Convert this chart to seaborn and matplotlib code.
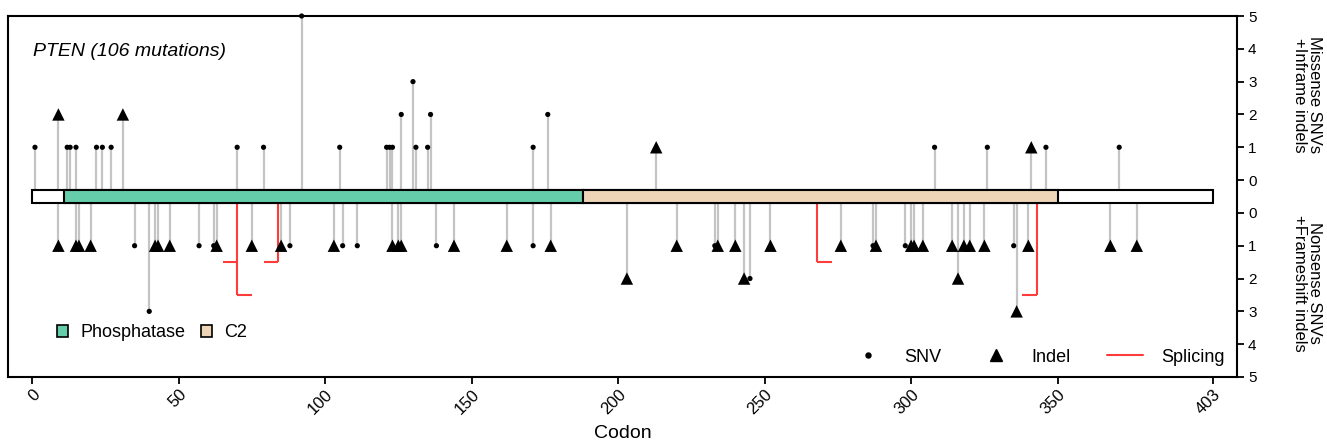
import numpy as np
import pandas as pd
import matplotlib
matplotlib.use("Agg")
import matplotlib.pyplot as plt
from matplotlib.patches import Rectangle, Patch
from matplotlib.lines import Line2D
import seaborn as sns

# ---------------- data ----------------
gene_name = "PTEN"
protein_length = 403
n_mutations = 106

domain_names = ["Phosphatase", "C2"]
domain_starts = [11, 188]
domain_ends = [188, 350]
domain_colors = ["#66CDAA", "#EED5B7"]

# upper track: missense SNVs + inframe indels
up_snv_codons = [1, 12, 13, 15, 22, 24, 27, 70, 79, 92, 105, 121, 122, 123, 126, 130,
                 131, 135, 136, 171, 176, 308, 326, 346, 371]
up_snv_counts = [1, 1, 1, 1, 1, 1, 1, 1, 1, 5, 1, 1, 1, 1, 2, 3,
                 1, 1, 2, 1, 2, 1, 1, 1, 1]
up_indel_codons = [9, 31, 213, 341]
up_indel_counts = [2, 2, 1, 1]

# lower track: nonsense SNVs + frameshift indels
low_snv_codons = [35, 40, 57, 62, 88, 106, 111, 138, 171, 233, 245, 287, 298, 335]
low_snv_counts = [1, 3, 1, 1, 1, 1, 1, 1, 1, 1, 2, 1, 1, 1]
low_indel_codons = [9, 15, 16, 20, 42, 43, 47, 63, 75, 85, 103, 123, 125, 126, 144,
                    162, 177, 203, 220, 234, 240, 243, 252, 276, 288, 300, 301, 304,
                    314, 316, 318, 320, 325, 336, 340, 368, 377]
low_indel_counts = [1, 1, 1, 1, 1, 1, 1, 1, 1, 1, 1, 1, 1, 1, 1,
                    1, 1, 2, 1, 1, 1, 2, 1, 1, 1, 1, 1, 1,
                    1, 2, 1, 1, 1, 3, 1, 1, 1]

# splicing marks (codon, level on the lower scale, side of the tick)
splice_codons = [70, 70, 84, 268, 343]
splice_levels = [1.5, 2.5, 1.5, 1.5, 2.5]
splice_sides = [-1, 1, -1, 1, -1]

x_ticks = [0, 50, 100, 150, 200, 250, 300, 350, 403]
y_tick_counts = [0, 1, 2, 3, 4, 5]

# ---------------- style ----------------
sns.set_style("white")
plt.rcParams["font.family"] = ["Liberation Sans", "DejaVu Sans"]
plt.rcParams["text.color"] = "black"
plt.rcParams["axes.labelcolor"] = "black"
plt.rcParams["xtick.color"] = "black"
plt.rcParams["ytick.color"] = "black"

fig = plt.figure(figsize=(13.27, 4.46), dpi=100)
ax = fig.add_axes([8 / 1327, 69 / 446, 1229 / 1327, 361 / 446])

half_bar = 0.21
stem_color = "#c4c4c4"

rows = []
for c, n in zip(up_snv_codons, up_snv_counts):
    rows.append((c, n + 0.5, "SNV"))
for c, n in zip(up_indel_codons, up_indel_counts):
    rows.append((c, n + 0.5, "Indel"))
for c, n in zip(low_snv_codons, low_snv_counts):
    rows.append((c, -(n + 0.5), "SNV"))
for c, n in zip(low_indel_codons, low_indel_counts):
    rows.append((c, -(n + 0.5), "Indel"))
df = pd.DataFrame(rows, columns=["codon", "y", "type"])

# stems
ax.vlines(df["codon"], 0, df["y"], color=stem_color, lw=1.6, zorder=1)

# markers
sns.scatterplot(data=df, x="codon", y="y", style="type", size="type",
                markers={"SNV": "o", "Indel": "^"},
                sizes={"SNV": 14, "Indel": 80},
                color="black", linewidth=0, legend=False, ax=ax, zorder=4)
for coll in ax.collections[1:]:
    coll.set_clip_on(False)

# splicing
sp_color = "#FF3B3B"
for c in sorted(set(splice_codons)):
    lv = max(l for cc, l in zip(splice_codons, splice_levels) if cc == c)
    ax.plot([c, c], [0, -(lv + 0.5)], color=sp_color, lw=1.5, zorder=2,
            solid_capstyle="butt")
for c, l, s in zip(splice_codons, splice_levels, splice_sides):
    ax.plot([c, c + s * 5], [-(l + 0.5), -(l + 0.5)], color=sp_color, lw=1.5, zorder=2,
            solid_capstyle="butt")

# gene bar
ax.add_patch(Rectangle((0, -half_bar), protein_length, 2 * half_bar,
                       facecolor="white", edgecolor="black", lw=1.5, zorder=3))
for s, e, col in zip(domain_starts, domain_ends, domain_colors):
    ax.add_patch(Rectangle((s, -half_bar), e - s, 2 * half_bar,
                           facecolor=col, edgecolor="black", lw=1.5, zorder=3))

# axes
ax.set_xlim(-8.2, 411.2)
ax.set_ylim(-5.5, 5.5)
ax.set_xticks(x_ticks)
ax.set_xticklabels([str(t) for t in x_ticks], rotation=45, ha="right",
                   rotation_mode="anchor", fontsize=12)
ytpos = [c + 0.5 for c in y_tick_counts] + [-(c + 0.5) for c in y_tick_counts]
ytlab = [str(c) for c in y_tick_counts] * 2
ax.yaxis.tick_right()
ax.set_yticks(ytpos)
ax.set_yticklabels(ytlab, fontsize=11)
ax.tick_params(axis="both", direction="out", length=5, width=1.3, colors="black",
               bottom=True, right=True, left=False, pad=3)
ax.tick_params(axis="x", pad=2)
for sp in ax.spines.values():
    sp.set_visible(True)
    sp.set_color("black")
    sp.set_linewidth(1.5)
ax.set_xlabel("Codon", fontsize=14, labelpad=6)
ax.set_ylabel("")

# right-side titles
fig.text(1307 / 1327, 1 - 95 / 446, "Missense SNVs\n+Inframe indels", rotation=270,
         ha="center", va="center", fontsize=12, linespacing=1.0)
fig.text(1307 / 1327, 1 - 283 / 446, "Nonsense SNVs\n+Frameshift indels", rotation=270,
         ha="center", va="center", fontsize=12, linespacing=1.0)

ax.text(0.0203, 0.889, f"{gene_name} ({n_mutations} mutations)", transform=ax.transAxes,
        fontsize=14, style="italic", ha="left", va="baseline")

# legends
dom_handles = [Patch(facecolor=c, edgecolor="black", lw=1.2) for c in domain_colors]
leg1 = ax.legend(dom_handles, domain_names, loc="center left",
                 bbox_to_anchor=(0.040, 0.122), frameon=False, fontsize=13,
                 ncol=2, handlelength=0.62, handleheight=0.62, handletextpad=0.67,
                 columnspacing=0.85, borderpad=0, borderaxespad=0)
ax.add_artist(leg1)

mut_handles = [Line2D([], [], marker="o", ls="none", color="black", markersize=3.6),
               Line2D([], [], marker="^", ls="none", color="black", markersize=9),
               Line2D([], [], color=sp_color, lw=1.5)]
ax.legend(mut_handles, ["SNV", "Indel", "Splicing"], loc="center right",
          bbox_to_anchor=(0.990, 0.055), frameon=False, fontsize=13, ncol=3,
          handlelength=2.0, handletextpad=1.0, columnspacing=2.0,
          borderpad=0, borderaxespad=0)

fig.savefig("out.png", dpi=100)
